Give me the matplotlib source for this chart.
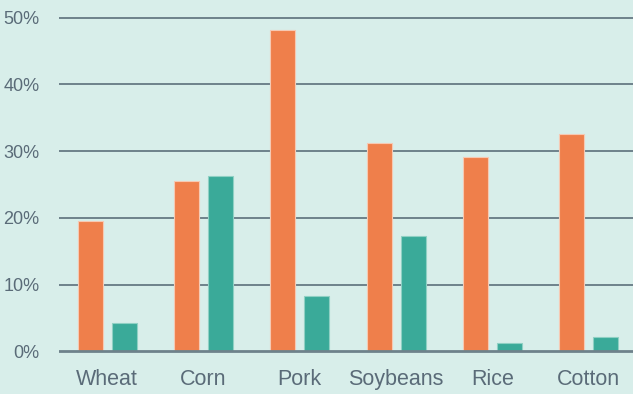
import numpy as np
import matplotlib
matplotlib.use("Agg")
import matplotlib.pyplot as plt

categories = ["Wheat", "Corn", "Pork", "Soybeans", "Rice", "Cotton"]
series_a = [19.5, 25.5, 48.2, 31.2, 29.1, 32.6]
series_b = [4.2, 26.3, 8.3, 17.3, 1.2, 2.2]
y_ticks = [0, 10, 20, 30, 40, 50]

bg = "#d8eeea"
orange = "#ef7f4b"
teal = "#3aaa99"
text_col = "#5a6b78"
grid_col = "#6e828b"

plt.rcParams["font.family"] = ["Liberation Sans", "DejaVu Sans"]

fig = plt.figure(figsize=(6.33, 3.94), dpi=100)
fig.patch.set_facecolor(bg)
ax = fig.add_axes([59 / 633, (394 - 354.6) / 394, 1 - 59 / 633, (354.6 - 11.1) / 394])
ax.set_facecolor(bg)

x = np.arange(len(categories))
w = 0.26
off = 0.177
ax.bar(x - off, series_a, width=w, color=orange, edgecolor="#f6c9b3", linewidth=0.8, zorder=3)
ax.bar(x + off, series_b, width=w, color=teal, edgecolor="#8fd0c4", linewidth=0.8, zorder=3)

for t in y_ticks:
    ax.axhline(t, color=grid_col, linewidth=2.0 if t == 0 else 1.4, zorder=2 if t else 4)

ax.set_xlim(-0.5, 5.46)
ax.set_ylim(-0.5, 51)
ax.set_yticks(y_ticks)
ax.set_yticklabels([f"{t}%" for t in y_ticks])
ax.set_xticks(x)
ax.set_xticklabels(categories)
ax.tick_params(axis="y", length=0, pad=14, labelsize=13, labelcolor=text_col)
ax.tick_params(axis="x", length=0, pad=10.5, labelsize=15.5, labelcolor=text_col)
for s in ax.spines.values():
    s.set_visible(False)

fig.savefig("out.png", dpi=100, facecolor=bg)
